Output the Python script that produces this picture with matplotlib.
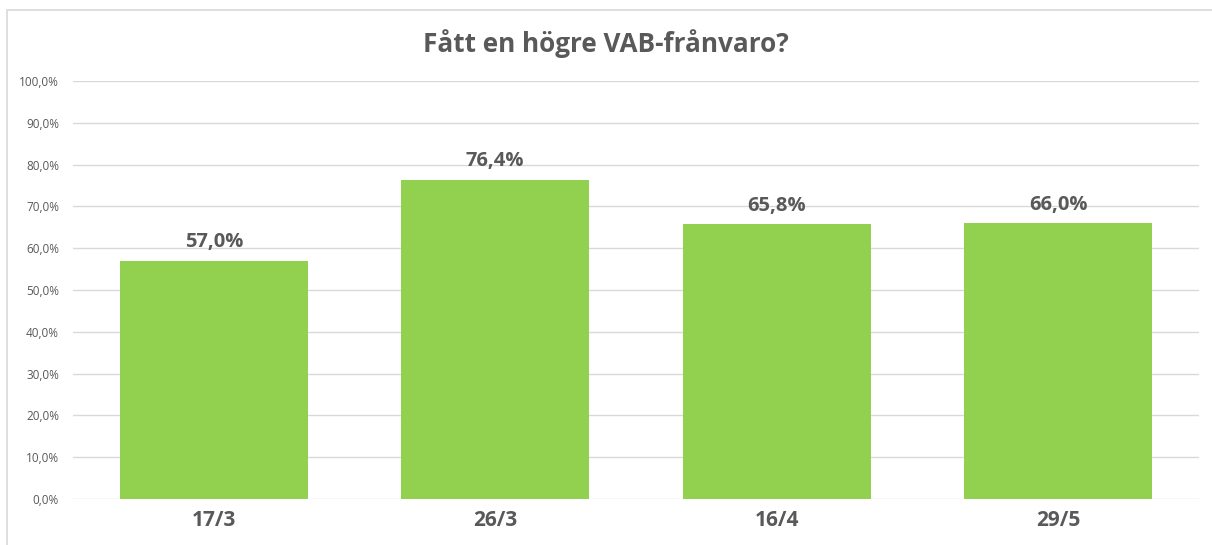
import matplotlib
matplotlib.use("Agg")
import matplotlib.pyplot as plt
from matplotlib.ticker import FuncFormatter
from matplotlib.patches import Rectangle

categories = ["17/3", "26/3", "16/4", "29/5"]
values = [57.0, 76.4, 65.8, 66.0]
yticks = [0, 10, 20, 30, 40, 50, 60, 70, 80, 90, 100]
title = "Fått en högre VAB-frånvaro?"

plt.rcParams['font.family'] = ['Open Sans', 'DejaVu Sans']
txt = "#595959"

fig = plt.figure(figsize=(12.12, 5.45), dpi=100)
ax = fig.add_axes([73/1212, 1-499/545, (1199-73)/1212, (499-81)/545])

x = range(len(categories))
ax.bar(x, values, width=0.668, color="#92D050", zorder=3)
ax.set_xlim(-0.5, len(categories)-0.5)
ax.set_ylim(0, 100)
ax.set_yticks(yticks)
ax.yaxis.set_major_formatter(FuncFormatter(lambda v, p: f"{v:.1f}%".replace(".", ",")))
ax.grid(axis="y", color="#D9D9D9", linewidth=1, zorder=0)
ax.set_xticks(list(x))
ax.set_xticklabels(categories, fontsize=15, fontweight="bold", color=txt)
ax.tick_params(axis="x", length=0, pad=8)
ax.tick_params(axis="y", length=0, labelsize=8.5, labelcolor=txt, pad=10)
for s in ax.spines.values():
    s.set_visible(False)

for i, v in enumerate(values):
    ax.annotate(f"{v:.1f}%".replace(".", ","), (i, v), xytext=(0, 6), textcoords="offset points",
                ha="center", va="bottom", fontsize=14.5, fontweight="bold", color=txt)

fig.text(0.5, 1-44/545, title, ha="center", va="center", fontsize=18.8, fontweight="bold", color=txt)

fig.patches.append(Rectangle((7/1212, -0.1), 1.2, 1-10/545+0.1, transform=fig.transFigure,
                             fill=False, edgecolor="#D9D9D9", linewidth=1.2))

fig.savefig("out.png", dpi=100)
